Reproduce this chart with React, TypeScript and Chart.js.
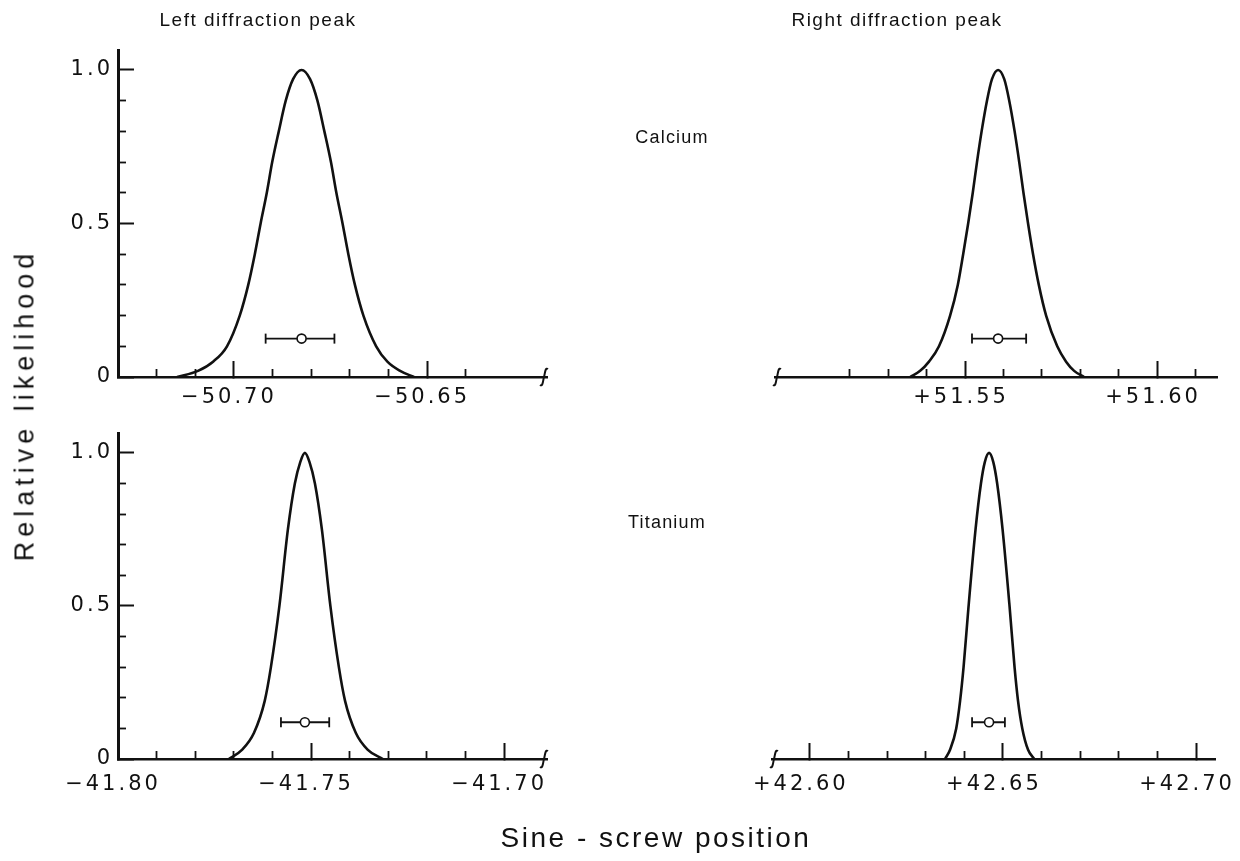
import React, { useEffect, useRef } from "react";
import { Chart, registerables } from "chart.js";

Chart.register(...registerables);

// ---------------- Data ----------------
// Calcium – left diffraction peak
const CA_LEFT_X = [-50.7147, -50.7093, -50.7054, -50.7018, -50.6985, -50.6963, -50.6946, -50.6931, -50.6915, -50.6901, -50.6884, -50.6866, -50.6847, -50.6825, -50.6803, -50.6784, -50.6766, -50.6749, -50.6735, -50.6719, -50.6704, -50.6687, -50.6665, -50.6632, -50.6603, -50.657, -50.6534];
const CA_LEFT_Y = [0, 0.02, 0.05, 0.1, 0.2, 0.3, 0.4, 0.5, 0.6, 0.7, 0.8, 0.9, 0.97, 1.0, 0.97, 0.9, 0.8, 0.7, 0.6, 0.5, 0.4, 0.3, 0.2, 0.1, 0.05, 0.02, 0];
const CA_LEFT_ERR = [-50.6918, -50.6825, -50.674]; // low, centre, high
const CA_LEFT_ERR_Y = [0.125];

// Calcium – right diffraction peak
const CA_RIGHT_X = [51.5357, 51.5383, 51.5406, 51.5432, 51.5461, 51.5481, 51.5495, 51.5508, 51.552, 51.5531, 51.5543, 51.5557, 51.557, 51.5586, 51.5602, 51.5615, 51.5629, 51.5641, 51.5652, 51.5664, 51.5677, 51.5692, 51.5711, 51.574, 51.5763, 51.5784, 51.581];
const CA_RIGHT_Y = [0, 0.02, 0.05, 0.1, 0.2, 0.3, 0.4, 0.5, 0.6, 0.7, 0.8, 0.9, 0.97, 1.0, 0.97, 0.9, 0.8, 0.7, 0.6, 0.5, 0.4, 0.3, 0.2, 0.1, 0.05, 0.02, 0];
const CA_RIGHT_ERR = [51.5518, 51.5586, 51.5659];
const CA_RIGHT_ERR_Y = [0.125];

// Titanium – left diffraction peak
const TI_LEFT_X = [-41.7713, -41.7679, -41.7648, -41.762, -41.7604, -41.7582, -41.756, -41.7542, -41.7528, -41.7516, -41.7504, -41.749, -41.7472, -41.745, -41.7428, -41.7412, -41.7384, -41.7353, -41.7314];
const TI_LEFT_Y = [0, 0.03, 0.085, 0.19, 0.3, 0.5, 0.75, 0.9, 0.97, 1.0, 0.97, 0.9, 0.75, 0.5, 0.3, 0.19, 0.085, 0.03, 0];
const TI_LEFT_ERR = [-41.7578, -41.7516, -41.7453];
const TI_LEFT_ERR_Y = [0.12];

// Titanium – right diffraction peak
const TI_RIGHT_X = [42.635, 42.6363, 42.6379, 42.6389, 42.6398, 42.6411, 42.6429, 42.6443, 42.6453, 42.6464, 42.6475, 42.6485, 42.6499, 42.6517, 42.653, 42.6539, 42.655, 42.6565, 42.6581];
const TI_RIGHT_Y = [0, 0.03, 0.1, 0.19, 0.3, 0.5, 0.75, 0.9, 0.97, 1.0, 0.97, 0.9, 0.75, 0.5, 0.3, 0.19, 0.1, 0.03, 0];
const TI_RIGHT_ERR = [42.642, 42.6464, 42.6505];
const TI_RIGHT_ERR_Y = [0.12];

// Axis ranges and ticks
const CA_LEFT_RANGE = [-50.73, -50.619];
const CA_LEFT_MAJOR = [-50.7, -50.65];
const CA_LEFT_LABELS = ["\u221250.70", "\u221250.65"];
const CA_LEFT_MINOR = [-50.72, -50.71, -50.69, -50.68, -50.67, -50.66, -50.64];

const CA_RIGHT_RANGE = [51.5005, 51.6156];
const CA_RIGHT_MAJOR = [51.55, 51.6];
const CA_RIGHT_LABELS = ["+51.55", "+51.60"];
const CA_RIGHT_MINOR = [51.52, 51.53, 51.54, 51.56, 51.57, 51.58, 51.59, 51.61];

const TI_LEFT_RANGE = [-41.8, -41.6889];
const TI_LEFT_MAJOR = [-41.8, -41.75, -41.7];
const TI_LEFT_LABELS = ["\u221241.80", "\u221241.75", "\u221241.70"];
const TI_LEFT_MINOR = [-41.79, -41.78, -41.77, -41.76, -41.74, -41.73, -41.72, -41.71];

const TI_RIGHT_RANGE = [42.5902, 42.7049];
const TI_RIGHT_MAJOR = [42.6, 42.65, 42.7];
const TI_RIGHT_LABELS = ["+42.60", "+42.65", "+42.70"];
const TI_RIGHT_MINOR = [42.61, 42.62, 42.63, 42.64, 42.66, 42.67, 42.68, 42.69];

const Y_RANGE = [0, 1.065];
const Y_MAJOR = [0, 0.5, 1.0];
const Y_LABELS = ["0", "0.5", "1.0"];
const Y_MINOR = [0.1, 0.2, 0.3, 0.4, 0.6, 0.7, 0.8, 0.9];

// ---------------- Layout / style ----------------
const W = 1240;
const H = 861;
const INK = "#111";
const FONT = "'Liberation Sans', Arial, sans-serif";
const TICK_FONT = "'DejaVu Sans', 'Liberation Sans', sans-serif";
const X_AXIS_H = 43;

type PanelDef = {
  xs: number[];
  ys: number[];
  err: number[];
  errY: number[];
  range: number[];
  major: number[];
  labels: string[];
  minor: number[];
  showY: boolean;
  area: { left: number; right: number; top: number; bottom: number };
  breakSide: "left" | "right";
  labelPad: number;
  labelShift: number;
};

const PANELS: PanelDef[] = [
  { xs: CA_LEFT_X, ys: CA_LEFT_Y, err: CA_LEFT_ERR, errY: CA_LEFT_ERR_Y, range: CA_LEFT_RANGE, major: CA_LEFT_MAJOR, labels: CA_LEFT_LABELS, minor: CA_LEFT_MINOR, showY: true, area: { left: 118, right: 547, top: 50, bottom: 377 }, breakSide: "right", labelPad: 24, labelShift: -5 },
  { xs: CA_RIGHT_X, ys: CA_RIGHT_Y, err: CA_RIGHT_ERR, errY: CA_RIGHT_ERR_Y, range: CA_RIGHT_RANGE, major: CA_RIGHT_MAJOR, labels: CA_RIGHT_LABELS, minor: CA_RIGHT_MINOR, showY: false, area: { left: 775, right: 1217, top: 50, bottom: 377 }, breakSide: "left", labelPad: 24, labelShift: -4 },
  { xs: TI_LEFT_X, ys: TI_LEFT_Y, err: TI_LEFT_ERR, errY: TI_LEFT_ERR_Y, range: TI_LEFT_RANGE, major: TI_LEFT_MAJOR, labels: TI_LEFT_LABELS, minor: TI_LEFT_MINOR, showY: true, area: { left: 118, right: 547, top: 433, bottom: 759 }, breakSide: "right", labelPad: 29, labelShift: -5 },
  { xs: TI_RIGHT_X, ys: TI_RIGHT_Y, err: TI_RIGHT_ERR, errY: TI_RIGHT_ERR_Y, range: TI_RIGHT_RANGE, major: TI_RIGHT_MAJOR, labels: TI_RIGHT_LABELS, minor: TI_RIGHT_MINOR, showY: false, area: { left: 772, right: 1215, top: 433, bottom: 759 }, breakSide: "left", labelPad: 29, labelShift: -9 },
];

const spacingPlugin = {
  id: "tickLetterSpacing",
  beforeDraw(chart: any) {
    chart.ctx.letterSpacing = "3px";
  },
};

const breakPlugin = {
  id: "axisBreak",
  afterDraw(chart: any, _args: any, opts: any) {
    const { ctx, chartArea } = chart;
    const x = opts.side === "left" ? chartArea.left + 2 : chartArea.right - 3;
    const y = chartArea.bottom;
    ctx.save();
    ctx.strokeStyle = INK;
    ctx.lineWidth = 2;
    ctx.beginPath();
    ctx.moveTo(x - 4, y + 8);
    ctx.bezierCurveTo(x - 1, y + 10, x - 1, y + 3, x, y);
    ctx.bezierCurveTo(x + 1, y - 3, x + 1, y - 10, x + 4, y - 8);
    ctx.stroke();
    ctx.restore();
  },
};

function buildConfig(p: PanelDef): any {
  const tickFont = { family: TICK_FONT, size: 21 };
  const curve = p.xs.map((x, i) => ({ x, y: p.ys[i] }));
  const whisker = [
    { x: p.err[0], y: p.errY[0] },
    { x: p.err[2], y: p.errY[0] },
  ];
  const centre = [{ x: p.err[1], y: p.errY[0] }];
  return {
    type: "line",
    data: {
      datasets: [
        {
          data: centre,
          showLine: false,
          pointStyle: "circle",
          pointRadius: 4.5,
          pointBackgroundColor: "#fff",
          pointBorderColor: INK,
          pointBorderWidth: 1.6,
          order: 0,
        },
        {
          data: whisker,
          borderColor: INK,
          borderWidth: 1.8,
          pointStyle: "line",
          rotation: 90,
          pointRadius: 5,
          pointBorderWidth: 1.8,
          pointBorderColor: INK,
          tension: 0,
          order: 1,
        },
        {
          data: curve,
          borderColor: INK,
          borderWidth: 2.6,
          pointRadius: 0,
          cubicInterpolationMode: "monotone",
          fill: false,
          order: 2,
        },
      ],
    },
    options: {
      responsive: false,
      maintainAspectRatio: false,
      devicePixelRatio: 1,
      animation: false,
      events: [],
      layout: {
        padding: {
          left: p.showY ? 0 : p.area.left,
          right: W - p.area.right,
          top: p.area.top,
          bottom: H - p.area.bottom - X_AXIS_H,
        },
      },
      plugins: {
        legend: { display: false },
        tooltip: { enabled: false },
        axisBreak: { side: p.breakSide },
      },
      scales: {
        x: {
          type: "linear",
          position: "bottom",
          min: p.range[0],
          max: p.range[1],
          weight: 1,
          afterBuildTicks: (s: any) => {
            s.ticks = p.major.map((v) => ({ value: v }));
          },
          afterFit: (s: any) => {
            s.height = X_AXIS_H;
            s.paddingLeft = 0;
            s.paddingRight = 0;
          },
          ticks: {
            callback: (_v: any, i: number) => p.labels[i],
            font: tickFont,
            color: INK,
            padding: p.labelPad,
            labelOffset: p.labelShift,
            autoSkip: false,
            maxRotation: 0,
            minRotation: 0,
          },
          grid: { drawOnChartArea: false, drawTicks: true, tickLength: -16, tickWidth: 2, tickColor: INK },
          border: { display: true, width: 2.5, color: INK },
        },
        xm: {
          type: "linear",
          position: "bottom",
          min: p.range[0],
          max: p.range[1],
          weight: 0,
          afterBuildTicks: (s: any) => {
            s.ticks = p.minor.map((v) => ({ value: v }));
          },
          afterFit: (s: any) => {
            s.height = 0;
            s.paddingLeft = 0;
            s.paddingRight = 0;
          },
          ticks: { display: false },
          grid: { drawOnChartArea: false, drawTicks: true, tickLength: -8, tickWidth: 1.8, tickColor: INK },
          border: { display: false },
        },
        y: {
          type: "linear",
          position: "left",
          display: p.showY,
          min: Y_RANGE[0],
          max: Y_RANGE[1],
          weight: 1,
          afterBuildTicks: (s: any) => {
            s.ticks = Y_MAJOR.map((v) => ({ value: v }));
          },
          afterFit: (s: any) => {
            s.width = p.showY ? p.area.left : 0;
            s.paddingTop = 0;
            s.paddingBottom = 0;
          },
          ticks: {
            callback: (_v: any, i: number) => Y_LABELS[i],
            font: tickFont,
            color: INK,
            padding: 21,
            autoSkip: false,
          },
          grid: { drawOnChartArea: false, drawTicks: true, tickLength: -16, tickWidth: 2, tickColor: INK },
          border: { display: true, width: 3, color: INK },
        },
        ym: {
          type: "linear",
          position: "left",
          display: p.showY,
          min: Y_RANGE[0],
          max: Y_RANGE[1],
          weight: 0,
          afterBuildTicks: (s: any) => {
            s.ticks = Y_MINOR.map((v) => ({ value: v }));
          },
          afterFit: (s: any) => {
            s.width = 0;
            s.paddingTop = 0;
            s.paddingBottom = 0;
          },
          ticks: { display: false },
          grid: { drawOnChartArea: false, drawTicks: true, tickLength: -8, tickWidth: 1.8, tickColor: INK },
          border: { display: false },
        },
      },
    },
    plugins: [spacingPlugin, breakPlugin],
  };
}

function Panel({ def }: { def: PanelDef }) {
  const ref = useRef<HTMLCanvasElement>(null);
  useEffect(() => {
    const chart = new Chart(ref.current as HTMLCanvasElement, buildConfig(def));
    return () => chart.destroy();
  }, [def]);
  return (
    <canvas
      ref={ref}
      width={W}
      height={H}
      style={{ position: "absolute", left: 0, top: 0, width: W, height: H }}
    />
  );
}

function Label(props: { text: string; x: number; y: number; size: number; spacing: number; rotate?: boolean }) {
  const { text, x, y, size, spacing, rotate } = props;
  return (
    <div
      style={{
        position: "absolute",
        left: x,
        top: y,
        transform: `translate(-50%, -50%)${rotate ? " rotate(-90deg)" : ""}`,
        fontFamily: FONT,
        fontSize: size,
        letterSpacing: spacing,
        lineHeight: 1,
        whiteSpace: "pre",
        color: INK,
      }}
    >
      {text}
    </div>
  );
}

export default function App() {
  return (
    <div
      style={{
        position: "absolute",
        left: 0,
        top: 0,
        width: W,
        height: H,
        background: "#fff",
        overflow: "hidden",
      }}
    >
      {PANELS.map((p, i) => (
        <Panel key={i} def={p} />
      ))}
      <Label text="Left diffraction peak" x={258} y={19} size={19} spacing={1.5} />
      <Label text="Right diffraction peak" x={897} y={19} size={19} spacing={1.5} />
      <Label text="Calcium" x={672} y={137} size={18} spacing={1.2} />
      <Label text="Titanium" x={667} y={522} size={18} spacing={1.2} />
      <Label text="Relative likelihood" x={25} y={405} size={27} spacing={5} rotate />
      <Label text="Sine - screw position" x={656} y={838} size={28} spacing={2.5} />
    </div>
  );
}
